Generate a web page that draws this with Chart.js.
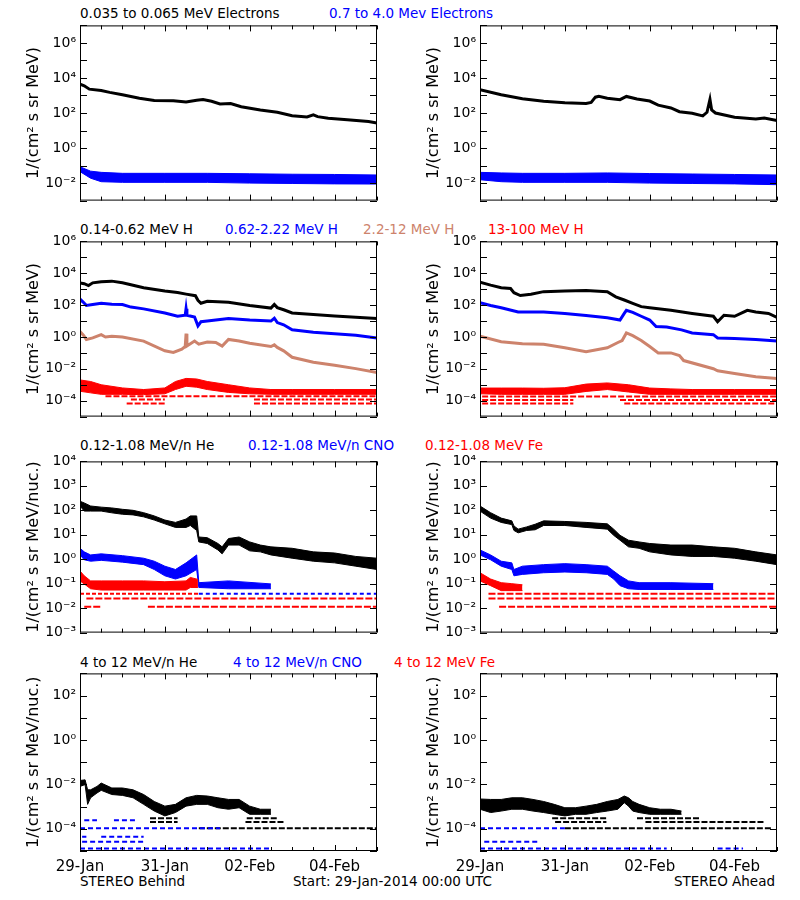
<!DOCTYPE html>
<html><head><meta charset="utf-8"><title>STEREO IMPACT/PLASTIC fluxes</title>
<script src="https://cdn.jsdelivr.net/npm/chart.js@4.4.1/dist/chart.umd.min.js"></script>
<style>
html,body{margin:0;padding:0;background:#fff;}
body{width:800px;height:900px;position:relative;overflow:hidden;font-family:"DejaVu Sans",sans-serif;color:#000;}
canvas{position:absolute;}
.t{position:absolute;font-size:13.5px;line-height:16px;white-space:nowrap;}
</style></head><body>
<div class="t" style="left:80px;top:5px;color:#000">0.035 to 0.065 MeV Electrons</div>
<div class="t" style="left:329px;top:5px;color:#0000ff">0.7 to 4.0 Mev Electrons</div>
<div class="t" style="left:80px;top:221px;color:#000">0.14-0.62 MeV H</div>
<div class="t" style="left:225px;top:221px;color:#0000ff">0.62-2.22 MeV H</div>
<div class="t" style="left:363px;top:221px;color:#cd836c">2.2-12 MeV H</div>
<div class="t" style="left:488px;top:221px;color:#ff0000">13-100 MeV H</div>
<div class="t" style="left:80px;top:437px;color:#000">0.12-1.08 MeV/n He</div>
<div class="t" style="left:248px;top:437px;color:#0000ff">0.12-1.08 MeV/n CNO</div>
<div class="t" style="left:425px;top:437px;color:#ff0000">0.12-1.08 MeV Fe</div>
<div class="t" style="left:80px;top:654px;color:#000">4 to 12 MeV/n He</div>
<div class="t" style="left:233px;top:654px;color:#0000ff">4 to 12 MeV/n CNO</div>
<div class="t" style="left:394px;top:654px;color:#ff0000">4 to 12 MeV Fe</div>
<div class="t" style="left:80px;top:873px">STEREO Behind</div>
<div class="t" style="left:293px;top:873px">Start: 29-Jan-2014 00:00 UTC</div>
<div class="t" style="right:25px;top:873px">STEREO Ahead</div>
<script>
// ---------------- data (time in days since 29-Jan-2014 00:00 UTC) ----------------
const dateLabels = ['29-Jan','31-Jan','02-Feb','04-Feb'];
const dateLabelDays = [0,2,4,6];
const xTickDays = [0,0.5,1,1.5,2,2.5,3,3.5,4,4.5,5,5.5,6,6.5,7];

// Row 1: electrons
const eBehLoT = [0,0.1,0.22,0.5,0.7,1.0,1.4,1.75,2.2,2.5,2.75,2.9,3.1,3.3,3.55,3.8,4.25,4.65,5.0,5.35,5.5,5.6,5.85,6.3,6.8,7.0];
const eBehLoV = [4500,3600,2300,1900,1500,1100,700,520,500,430,540,580,470,330,350,230,150,110,70,60,78,62,50,41,33,27];
const eBehHiT = [0,0.25,0.5,1,2,3,4,5,6,7];
const eBehHiUp = [0.085,0.048,0.041,0.036,0.036,0.036,0.034,0.032,0.031,0.029];
const eBehHiLo = [0.045,0.019,0.012,0.011,0.011,0.011,0.010,0.0095,0.009,0.0088];

const eAheLoT = [0,0.5,1.0,1.5,2.0,2.5,2.62,2.72,2.8,3.0,3.3,3.45,3.7,4.0,4.2,4.5,4.7,5.0,5.25,5.35,5.42,5.46,5.55,6.0,6.5,6.7,7.0];
const eAheLoV = [2100,1100,660,470,390,350,400,800,900,700,580,880,630,480,280,195,118,96,68,110,600,150,100,58,45,52,37];
const eAheHiT = [0,0.5,1,2,3,4,5,6,7];
const eAheHiUp = [0.041,0.038,0.036,0.036,0.038,0.035,0.033,0.031,0.029];
const eAheHiLo = [0.0155,0.012,0.011,0.011,0.011,0.010,0.0095,0.009,0.0081];

// Row 2: protons
const pBehAT = [0,0.1,0.2,0.3,0.5,0.75,1.0,1.5,2.0,2.3,2.5,2.72,2.78,2.85,3.0,3.5,4.0,4.5,4.58,4.65,4.8,5.0,5.5,6.0,6.5,7.0];
const pBehAV = [2500,2200,1700,2500,2900,3200,2500,1230,780,620,490,390,200,130,175,150,95,65,110,70,51,32,26,21,17,14.5];
const pBehBT = [0,0.08,0.15,0.3,0.5,0.75,1.0,1.2,1.5,2.0,2.3,2.48,2.5,2.52,2.7,2.78,2.85,3.0,3.5,4.0,4.5,4.58,4.65,4.8,5.0,5.5,6.0,6.5,7.0];
const pBehBV = [240,150,95,110,130,115,110,75,58,32,20,23,60,23,18,5,9,10,14.5,11.5,10,15,8,5.8,2.8,2.0,1.6,1.3,0.87];
const pBehCT = [0,0.08,0.15,0.3,0.5,0.6,0.75,1.0,1.5,2.0,2.2,2.4,2.48,2.5,2.52,2.7,2.8,3.0,3.2,3.35,3.5,3.75,4.0,4.5,4.58,4.65,4.8,5.0,5.5,6.0,6.5,7.0];
const pBehCV = [2.2,1.3,0.7,0.87,1.4,1.0,1.1,1.0,0.55,0.135,0.107,0.17,0.25,1.6,0.27,0.55,0.35,0.48,0.45,0.27,0.7,0.55,0.4,0.25,0.32,0.22,0.135,0.053,0.026,0.0165,0.0103,0.0059];
const pBehDT = [0,0.25,0.5,1,1.5,2,2.25,2.5,2.75,3,3.5,4,4.5,5,6,7];
const pBehDUp = [2e-3,1.6e-3,1e-3,6.3e-4,5e-4,6.3e-4,1.6e-3,2.5e-3,2.3e-3,1.6e-3,1e-3,6.3e-4,5e-4,5e-4,5e-4,5e-4];
const pBehDLo = [3.9e-4,3.1e-4,2.5e-4,2.5e-4,2.4e-4,2.7e-4,5e-4,8e-4,7e-4,5e-4,3.3e-4,2.7e-4,2.5e-4,2.5e-4,2.5e-4,2.5e-4];
const pBehLvlV = [1.9e-4,1.2e-4,6.6e-5];
const pBehLvlSeg = [[[0.6,7]],[[1.2,2.0],[4.1,7]],[[1.1,2.0],[4.1,7]]];

const pAheAT = [0,0.25,0.5,0.72,0.8,0.95,1.2,1.5,2.0,2.5,3.0,3.2,3.4,3.6,3.8,4.0,4.5,5.0,5.5,5.6,5.75,6.0,6.3,6.5,6.8,7.0];
const pAheAV = [2750,1800,1230,1100,600,400,480,700,780,830,700,330,210,130,80,68,47,30,20,9,23,20,47,37,30,17];
const pAheBT = [0,0.25,0.5,0.9,1.5,2.0,2.5,3.0,3.3,3.4,3.45,3.6,3.8,4.0,4.15,4.4,4.75,5.0,5.5,5.6,6.0,6.5,7.0];
const pAheBV = [140,95,68,37,37,30,22,16,11.5,30,47,35,20,11.5,4.5,4.2,2.8,1.8,1.4,0.87,0.8,0.7,0.55];
const pAheCT = [0,0.5,1.0,1.5,2.0,2.5,3.0,3.25,3.35,3.45,3.6,3.8,4.0,4.2,4.5,4.7,4.8,5.5,5.6,6.0,6.5,7.0];
const pAheCV = [1.1,0.5,0.38,0.35,0.21,0.12,0.21,0.45,0.6,1.8,1.2,0.6,0.25,0.1,0.1,0.068,0.033,0.0102,0.0075,0.0051,0.0032,0.0025];
const pAheDT = [0,0.5,1,1.5,2,2.5,3,3.5,4,4.5,5,6,7];
const pAheDUp = [6.2e-4,6.2e-4,6.2e-4,6e-4,6.5e-4,1.1e-3,1.3e-3,1e-3,6.2e-4,5.5e-4,5e-4,5e-4,5e-4];
const pAheDLo = [2.7e-4,2.5e-4,2.5e-4,2.5e-4,2.5e-4,3.8e-4,5e-4,3.5e-4,2.5e-4,2.5e-4,2.5e-4,2.5e-4,2.5e-4];
const pAheLvlV = [1.8e-4,1.1e-4,6.6e-5];
const pAheLvlSeg = [[[0.05,7]],[[0.05,2.2],[3.3,7]],[[0.05,2.2],[3.4,7]]];

// Row 3: 0.12-1.08 MeV/n ions
const hBehAT = [0,0.1,0.25,0.5,0.75,1.0,1.25,1.5,1.75,2.0,2.25,2.5,2.6,2.75,2.8,3.0,3.25,3.35,3.5,3.75,4.0,4.25,4.5,5.0,5.5,6.0,6.5,7.0];
const hBehAUp = [235,200,150,135,125,110,100,80,59,40,32,44,59,59,8.1,7.6,4.4,3.2,7,8.1,5.1,3.8,3.2,2.8,2.0,1.8,1.3,1.1];
const hBehALo = [150,93,93,93,79,69,65,54,40,28,20,20,24,15,5.1,4.4,2.4,1.66,3.8,3.8,2.2,2.0,1.5,1.1,0.83,0.71,0.52,0.38];
const hBehBT = [0,0.1,0.25,0.5,1.0,1.5,1.75,2.0,2.25,2.5,2.75,2.8,3.5,4.5];
const hBehBUp = [2.8,2.0,1.5,1.66,1.4,1.1,0.83,0.52,0.38,0.71,1.5,0.11,0.13,0.098];
const hBehBLo = [1.5,0.95,0.83,0.9,0.76,0.6,0.38,0.21,0.155,0.21,0.38,0.07,0.062,0.062];
const hBehCT = [0,0.1,0.25,0.5,1.0,1.5,2.0,2.5,2.6,2.78];
const hBehCUp = [0.33,0.21,0.13,0.13,0.13,0.13,0.12,0.13,0.18,0.15];
const hBehCLo = [0.13,0.098,0.062,0.055,0.055,0.055,0.055,0.055,0.07,0.07];
const hBehLvlV = [0.039,0.039,0.0245,0.0115];
const hBehLvlSeg = [[[0,2.8]],[[2.8,7]],[[0.15,7]],[[0.1,0.5],[1.6,7]]];

const hAheAT = [0,0.25,0.5,0.75,0.8,0.9,1.1,1.3,1.5,2.0,2.5,3.0,3.15,3.3,3.5,3.75,4.0,4.5,5.0,5.5,6.0,6.5,7.0];
const hAheAUp = [150,80,48,37,23,17,21,27,37,35,32,28,17,9.5,6,5.1,4.4,3.8,3.8,3.2,2.8,2.0,1.5];
const hAheALo = [93,48,32,26,15,12,15,16,24,24,20,17,9.5,6,3.2,2.8,2.0,1.5,1.3,1.3,1.1,0.83,0.6];
const hAheBT = [0,0.25,0.5,0.75,0.8,1.0,1.5,2.0,2.5,3.0,3.15,3.3,3.5,3.75,4.5,5.5];
const hAheBUp = [2.4,1.5,0.83,0.71,0.38,0.52,0.6,0.66,0.6,0.52,0.33,0.21,0.13,0.11,0.11,0.1];
const hAheBLo = [1.5,0.95,0.52,0.38,0.21,0.24,0.28,0.3,0.28,0.24,0.155,0.083,0.062,0.058,0.058,0.058];
const hAheCT = [0,0.25,0.5,0.75,1.0];
const hAheCUp = [0.28,0.155,0.11,0.1,0.09];
const hAheCLo = [0.13,0.083,0.052,0.052,0.052];
const hAheLvlV = [0.039,0.0245,0.0115];
const hAheLvlSeg = [[[0.2,7]],[[0.2,7]],[[0.45,7]]];

// Row 4: 4-12 MeV/n ions
const iBehAT = [0,0.12,0.18,0.25,0.4,0.5,0.75,1.0,1.25,1.5,1.75,2.0,2.25,2.5,2.75,3.0,3.25,3.5,3.75,4.0,4.25,4.5];
const iBehAUp = [0.015,0.016,0.0057,0.0057,0.0081,0.0115,0.0069,0.0069,0.0057,0.0035,0.0017,0.00105,0.00126,0.0025,0.0032,0.003,0.0025,0.0021,0.0021,0.00105,7.6e-4,7.6e-4];
const iBehALo = [0.0081,0.0098,0.00126,0.0025,0.0041,0.0054,0.0035,0.0032,0.0025,0.00126,6.3e-4,3.8e-4,5.4e-4,0.00105,0.00126,0.00126,8.9e-4,7.6e-4,8.9e-4,4.5e-4,4.5e-4,4.5e-4];
const iBehBlkLvlV = [3e-4,2e-4,1.05e-4];
const iBehBlkLvlSeg = [[[1.65,2.3],[3.93,4.64]],[[1.65,2.3],[3.9,4.8]],[[2.8,7]]];
const iBehBluLvlV = [2.4e-4,1.05e-4,4.4e-5,2.6e-5,1.3e-5];
const iBehBluLvlSeg = [[[0.1,0.4],[0.8,1.3]],[[0,3.3]],[[0.05,0.15],[0.5,1.5]],[[0.05,1.55]],[[0,4.5]]];

const iAheAT = [0,0.25,0.5,0.75,1.0,1.25,1.5,1.75,2.0,2.25,2.5,2.75,3.0,3.25,3.4,3.5,3.6,3.75,4.0,4.25,4.5,4.75];
const iAheAUp = [0.0022,0.0021,0.0021,0.0025,0.0025,0.0021,0.0017,0.00126,8.9e-4,8.9e-4,0.00105,0.00126,0.0017,0.0021,0.003,0.0025,0.0017,0.00126,8.9e-4,7.6e-4,7.6e-4,6.3e-4];
const iAheALo = [7.6e-4,5.4e-4,6.3e-4,7.6e-4,7.6e-4,6.3e-4,5.4e-4,4.5e-4,3.8e-4,4.5e-4,4.5e-4,5.4e-4,6.3e-4,7.6e-4,0.0015,0.00105,6.3e-4,5.4e-4,4.5e-4,4.5e-4,4.5e-4,4.5e-4];
const iAheBlkLvlV = [3e-4,2e-4,1.05e-4];
const iAheBlkLvlSeg = [[[1.7,3.0],[3.7,5.2]],[[1.77,2.98],[3.9,6.7]],[[2.0,6.9]]];
const iAheBluLvlV = [1.05e-4,2.6e-5,1.3e-5];
const iAheBluLvlSeg = [[[0,2.0]],[[0.1,1.4]],[[0,4.4],[5.6,6.2]]];

// ---------------- rendering helpers ----------------
const BLACK='#000000', BLUE='#0000ff', BROWN='#cd836c', RED='#ff0000';
Chart.defaults.font.family = "'DejaVu Sans', sans-serif";
const SUP = {'-':'\u207b','0':'\u2070','1':'\u00b9','2':'\u00b2','3':'\u00b3','4':'\u2074','5':'\u2075','6':'\u2076','7':'\u2077','8':'\u2078','9':'\u2079'};
const sup = p => String(p).split('').map(c => SUP[c]).join('');

function pts(t, v){ return t.map((x,i)=>({x:x, y:v[i]})); }
function line(t, v, color, w){
  return {data:pts(t,v), borderColor:color, borderWidth:w||3, pointRadius:0, tension:0, fill:false, spanGaps:false};
}
function band(t, hi, lo, color){
  return [
    {data:pts(t,hi), borderColor:color, backgroundColor:color, borderWidth:1, pointRadius:0, tension:0, fill:'+1'},
    {data:pts(t,lo), borderColor:color, borderWidth:1, pointRadius:0, tension:0, fill:false}
  ];
}
function levels(vals, segs, color, dash, w){
  return vals.map((v,k)=>{
    const d=[];
    segs[k].forEach(s=>{ d.push({x:s[0],y:v},{x:s[1],y:v},{x:s[1],y:null}); });
    return {data:d, borderColor:color, borderWidth:w||2, borderDash:dash||[6,2], pointRadius:0, tension:0, fill:false, spanGaps:false};
  });
}

const frameTicks = {
  id:'frameTicks',
  afterDraw(chart){
    const {ctx, chartArea:a} = chart; const xs = chart.scales.x, ys = chart.scales.y;
    ctx.save(); ctx.strokeStyle='#000'; ctx.lineWidth=1;
    ctx.strokeRect(a.left+0.5, a.top+0.5, a.right-a.left-1, a.bottom-a.top-1);
    ctx.beginPath();
    ys.ticks.forEach(t=>{
      const py = Math.round(ys.getPixelForValue(t.value))+0.5;
      ctx.moveTo(a.left, py); ctx.lineTo(a.left+7, py);
      ctx.moveTo(a.right, py); ctx.lineTo(a.right-7, py);
    });
    xs.ticks.forEach(t=>{
      const px = Math.round(xs.getPixelForValue(t.value))+0.5;
      const len = dateLabelDays.includes(t.value) ? 6 : 4;
      ctx.moveTo(px, a.bottom); ctx.lineTo(px, a.bottom-len);
      ctx.moveTo(px, a.top); ctx.lineTo(px, a.top+len);
    });
    ctx.stroke(); ctx.restore();
  }
};

function makePanel(left, top, bottom, showX, yMinP, yMaxP, labelEvery, yTitle, datasets){
  const c = document.createElement('canvas');
  const h = (bottom-top) + 10 + (showX ? 24 : 10);
  c.width = 400; c.height = h;
  c.style.left = left+'px'; c.style.top = (top-10)+'px';
  c.style.width = '400px'; c.style.height = h+'px';
  document.body.appendChild(c);
  const powers = []; for (let p=yMinP; p<=yMaxP; p++) powers.push(p);
  new Chart(c, {
    type:'line',
    data:{datasets:datasets},
    options:{
      responsive:false, animation:false, devicePixelRatio:1,
      layout:{padding:{left:0, right:23, top:10, bottom:showX?0:10}},
      plugins:{legend:{display:false}, tooltip:{enabled:false}},
      scales:{
        x:{type:'linear', min:0, max:7,
          afterBuildTicks:s=>{ s.ticks = xTickDays.map(v=>({value:v})); },
          afterFit:s=>{ s.height = showX ? 24 : 0; },
          grid:{display:false, drawTicks:false}, border:{display:false},
          ticks:{display:showX, autoSkip:false, maxRotation:0, padding:7, color:'#000', font:{size:15},
            callback:v=>{ const k = dateLabelDays.indexOf(v); return k>=0 ? dateLabels[k] : ''; }}
        },
        y:{type:'logarithmic', min:Math.pow(10,yMinP), max:Math.pow(10,yMaxP),
          afterBuildTicks:s=>{ s.ticks = powers.map(p=>({value:Math.pow(10,p)})); },
          afterFit:s=>{ s.width = 80; },
          grid:{display:false, drawTicks:false}, border:{display:false},
          ticks:{autoSkip:false, padding:4, color:'#000', font:{size:14},
            callback:v=>{ const p = Math.round(Math.log10(v)); return (Math.abs(p) % labelEvery === 0) ? '10'+sup(p) : ''; }},
          title:{display:true, text:yTitle, color:'#000', font:{size:16}, padding:{top:24,bottom:0}}
        }
      }
    },
    plugins:[frameTicks]
  });
}

const T1 = '1/(cm\u00b2 s sr MeV)';
const T2 = '1/(cm\u00b2 s sr MeV/nuc.)';
const rows = [[23,203],[239,419],[459,635],[671,851]];

// Row 1
makePanel(0, rows[0][0], rows[0][1], false, -3, 7, 2, T1, [
  ...band(eBehHiT, eBehHiUp, eBehHiLo, BLUE),
  line(eBehLoT, eBehLoV, BLACK, 3)
]);
makePanel(400, rows[0][0], rows[0][1], false, -3, 7, 2, T1, [
  ...band(eAheHiT, eAheHiUp, eAheHiLo, BLUE),
  line(eAheLoT, eAheLoV, BLACK, 3)
]);
// Row 2
makePanel(0, rows[1][0], rows[1][1], false, -5, 6, 2, T1, [
  ...levels(pBehLvlV, pBehLvlSeg, RED, [6,2], 2),
  ...band(pBehDT, pBehDUp, pBehDLo, RED),
  line(pBehCT, pBehCV, BROWN, 3),
  line(pBehBT, pBehBV, BLUE, 3),
  line(pBehAT, pBehAV, BLACK, 3)
]);
makePanel(400, rows[1][0], rows[1][1], false, -5, 6, 2, T1, [
  ...levels(pAheLvlV, pAheLvlSeg, RED, [6,2], 2),
  ...band(pAheDT, pAheDUp, pAheDLo, RED),
  line(pAheCT, pAheCV, BROWN, 3),
  line(pAheBT, pAheBV, BLUE, 3),
  line(pAheAT, pAheAV, BLACK, 3)
]);
// Row 3
makePanel(0, rows[2][0], rows[2][1], false, -3, 4, 1, T2, [
  ...levels([hBehLvlV[0]], [hBehLvlSeg[0]], RED, [4,2], 2),
  ...levels([hBehLvlV[1]], [hBehLvlSeg[1]], BLUE, [4,3], 2),
  ...levels(hBehLvlV.slice(2), hBehLvlSeg.slice(2), RED, [7,2], 2),
  ...band(hBehCT, hBehCUp, hBehCLo, RED),
  ...band(hBehBT, hBehBUp, hBehBLo, BLUE),
  ...band(hBehAT, hBehAUp, hBehALo, BLACK)
]);
makePanel(400, rows[2][0], rows[2][1], false, -3, 4, 1, T2, [
  ...levels(hAheLvlV, hAheLvlSeg, RED, [7,2], 2),
  ...band(hAheCT, hAheCUp, hAheCLo, RED),
  ...band(hAheBT, hAheBUp, hAheBLo, BLUE),
  ...band(hAheAT, hAheAUp, hAheALo, BLACK)
]);
// Row 4
makePanel(0, rows[3][0], rows[3][1], true, -5, 3, 2, T2, [
  ...levels(iBehBluLvlV, iBehBluLvlSeg, BLUE, [5,3], 2),
  ...levels(iBehBlkLvlV, iBehBlkLvlSeg, BLACK, [6,2], 2),
  ...band(iBehAT, iBehAUp, iBehALo, BLACK)
]);
makePanel(400, rows[3][0], rows[3][1], true, -5, 3, 2, T2, [
  ...levels(iAheBluLvlV, iAheBluLvlSeg, BLUE, [5,3], 2),
  ...levels(iAheBlkLvlV, iAheBlkLvlSeg, BLACK, [6,2], 2),
  ...band(iAheAT, iAheAUp, iAheALo, BLACK)
]);
</script>
</body></html>
